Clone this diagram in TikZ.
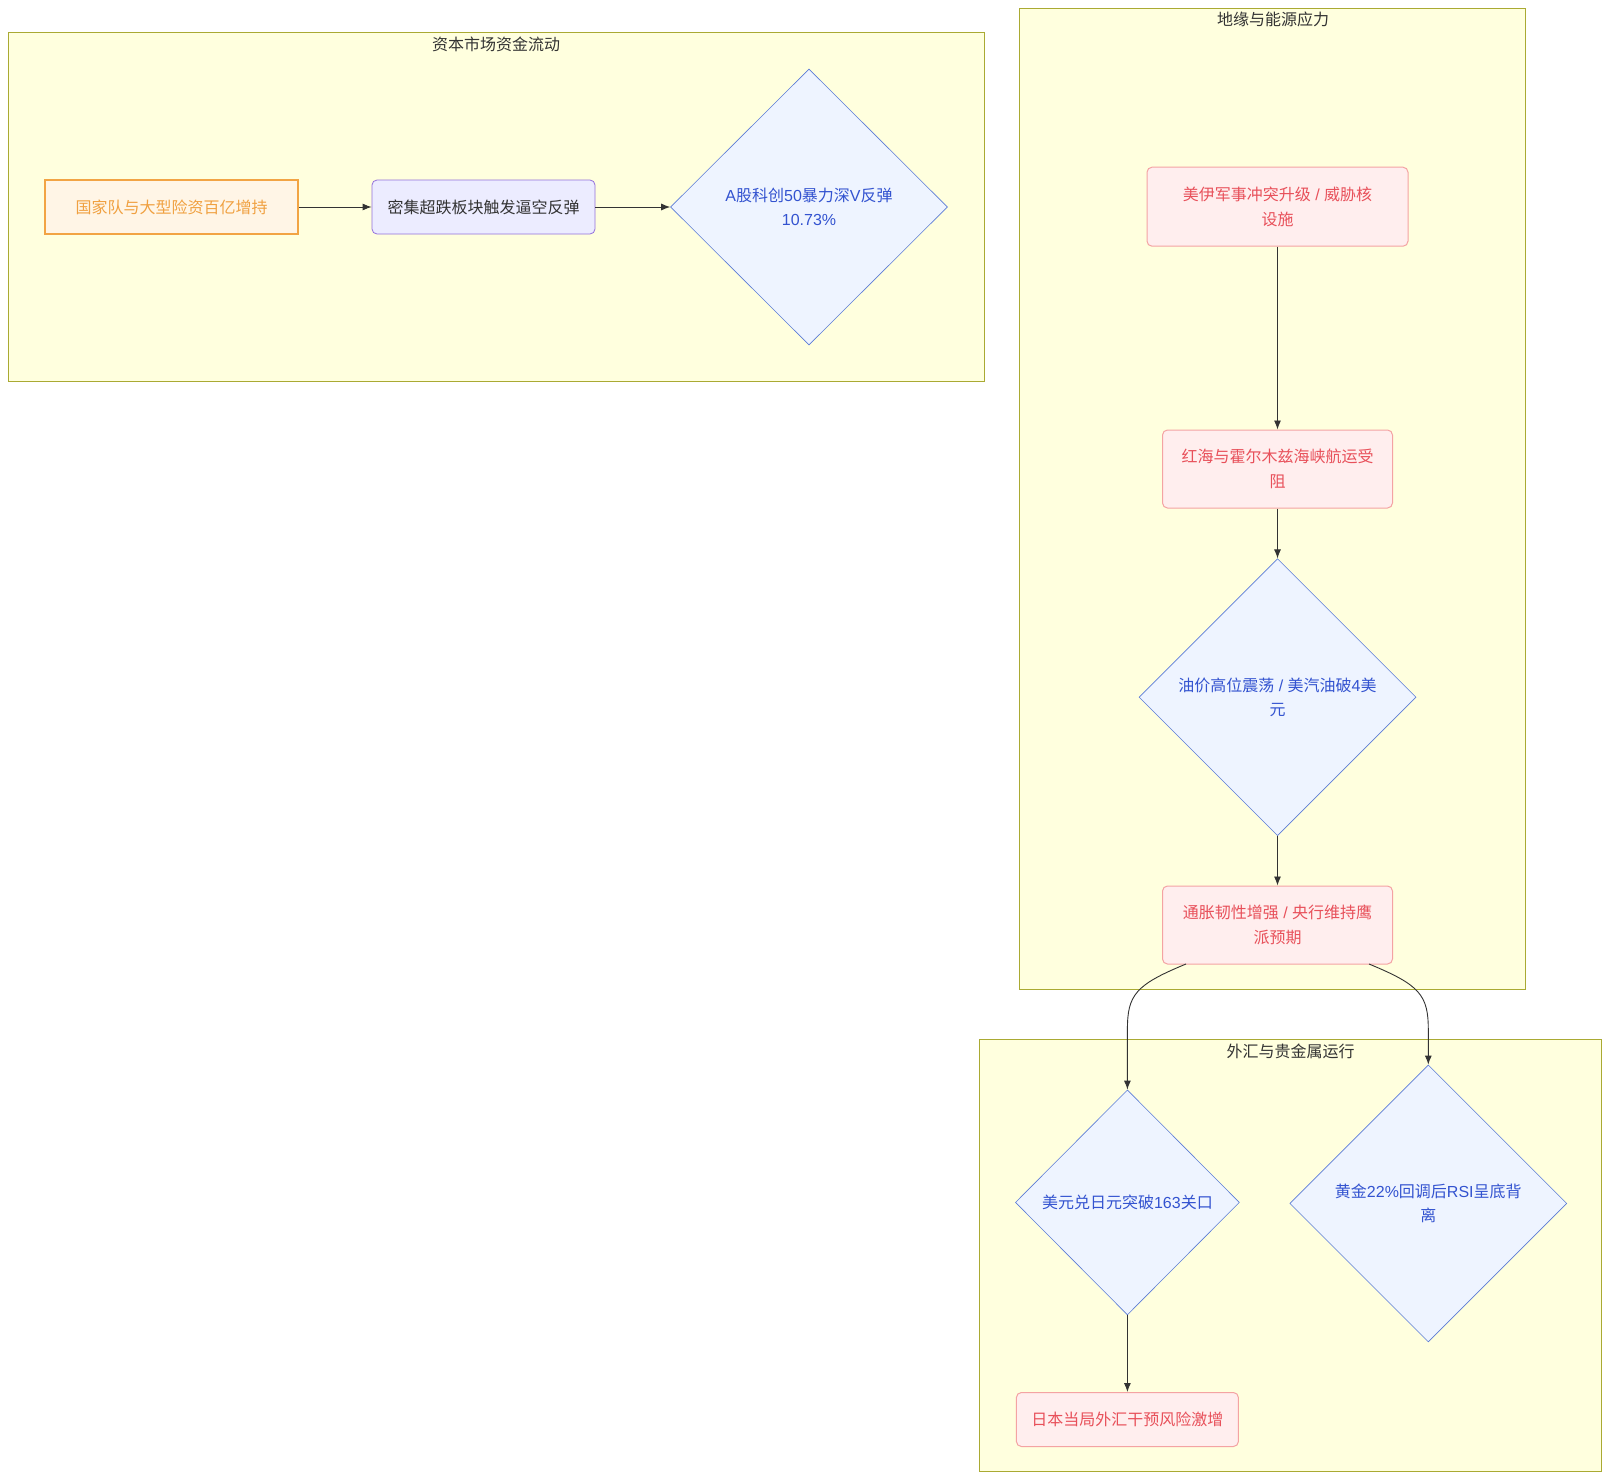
\documentclass[tikz,border=0pt]{standalone}
\usepackage{fontspec}
\setmainfont{Liberation Sans}
\newfontfamily\cjkfam{Noto Sans CJK SC}
\newfontfamily\latfam{Liberation Sans}
\XeTeXinterchartokenstate=1
\newXeTeXintercharclass\CJKclass
\count255="4E00
\loop
  \XeTeXcharclass\count255=\CJKclass
  \advance\count255 by 1
\ifnum\count255<"A000 \repeat
\XeTeXinterchartoks 0 \CJKclass = {\cjkfam}
\XeTeXinterchartoks 4095 \CJKclass = {\cjkfam}
\XeTeXinterchartoks \CJKclass 0 = {\latfam}
\XeTeXinterchartoks \CJKclass 4095 = {\latfam}
\usetikzlibrary{shapes.geometric,arrows.meta}
\definecolor{clfill}{HTML}{FFFFDE}
\definecolor{clline}{HTML}{AAAA33}
\definecolor{orfill}{HTML}{FFF5E6}
\definecolor{orline}{HTML}{F2A444}
\definecolor{ortext}{HTML}{F0A040}
\definecolor{pufill}{HTML}{ECECFF}
\definecolor{puline}{HTML}{9370DB}
\definecolor{txt}{HTML}{333333}
\definecolor{rdfill}{HTML}{FFEEEE}
\definecolor{rdline}{HTML}{F4A3A3}
\definecolor{rdtext}{HTML}{E8505A}
\definecolor{dmfill}{HTML}{EEF4FF}
\definecolor{dmline}{HTML}{5B7BD6}
\definecolor{dmtext}{HTML}{3353D0}
\tikzset{
  base/.style={font=\fontsize{16}{24.6}\selectfont, align=center, inner sep=0pt},
  cluster/.style={draw=clline, fill=clfill, line width=1pt},
  ctitle/.style={base, text=txt},
  orbox/.style={base, draw=orline, fill=orfill, text=ortext, line width=2pt, minimum width=253, minimum height=54},
  pubox/.style={base, draw=puline, fill=pufill, text=txt, line width=0.8pt, rounded corners=5pt, minimum width=223, minimum height=54},
  rdbox/.style={base, draw=rdline, fill=rdfill, text=rdtext, line width=1pt, rounded corners=5pt},
  dmnode/.style={base, diamond, shape aspect=1, draw=dmline, fill=dmfill, text=dmtext, line width=0.6pt},
  conn/.style={draw=txt, line width=0.9pt, -{Latex[length=9pt,width=7pt]}},
}
\begin{document}
\begin{tikzpicture}[x=1pt,y=-1pt]
\useasboundingbox (0,0) rectangle (1610,1480);
\fill[white] (0,0) rectangle (1610,1480);
% clusters
\draw[cluster] (8.2,32.9) rectangle (984.7,381);
\node[ctitle] (t1) at (496,44) {资本市场资金流动};
\draw[cluster] (1019.6,8.2) rectangle (1525.8,989.8);
\node[ctitle] (t2) at (1273,19) {地缘与能源应力};
\draw[cluster] (979.6,1039) rectangle (1601.8,1471.4);
\node[ctitle] (t3) at (1290.7,1051.5) {外汇与贵金属运行};
% nodes
\node[orbox] (A) at (171.5,207) {国家队与大型险资百亿增持};
\node[pubox] (B) at (483.5,207) {密集超跌板块触发逼空反弹};
\node[dmnode, minimum width=277, minimum height=276] (C) at (809,207) {A股科创50暴力深V反弹\\10.73\%};
\node[rdbox, minimum width=261, minimum height=79] (D) at (1277.5,206.7) {美伊军事冲突升级 / 威胁核\\设施};
\node[rdbox, minimum width=230, minimum height=78] (E) at (1277.5,469) {红海与霍尔木兹海峡航运受\\阻};
\node[dmnode, minimum width=277, minimum height=277] (F) at (1277.5,697.2) {油价高位震荡 / 美汽油破4美\\元};
\node[rdbox, minimum width=230, minimum height=78] (G) at (1277.5,925) {通胀韧性增强 / 央行维持鹰\\派预期};
\node[dmnode, minimum width=224, minimum height=225] (H) at (1127.4,1202.4) {美元兑日元突破163关口};
\node[dmnode, minimum width=277, minimum height=277] (I) at (1428.3,1203.4) {黄金22\%回调后RSI呈底背\\离};
\node[rdbox, minimum width=222, minimum height=54] (J) at (1127.4,1419.5) {日本当局外汇干预风险激增};
% connectors
\draw[conn] (A.east) -- (B.west);
\draw[conn] (B.east) -- (C.west);
\draw[conn] (D.south) -- (E.north);
\draw[conn] (E.south) -- (F.north);
\draw[conn] (F.south) -- (G.north);
\coordinate (g1) at (1186,964);
\coordinate (g2) at (1369,964);
\draw[conn] (g1) .. controls (1135,985) and (1127.4,995) .. (1127.4,1030) -- (H.north);
\draw[conn] (g2) .. controls (1420,985) and (1428.3,995) .. (1428.3,1030) -- (I.north);
\draw[conn] (H.south) -- (J.north);
\end{tikzpicture}
\end{document}
